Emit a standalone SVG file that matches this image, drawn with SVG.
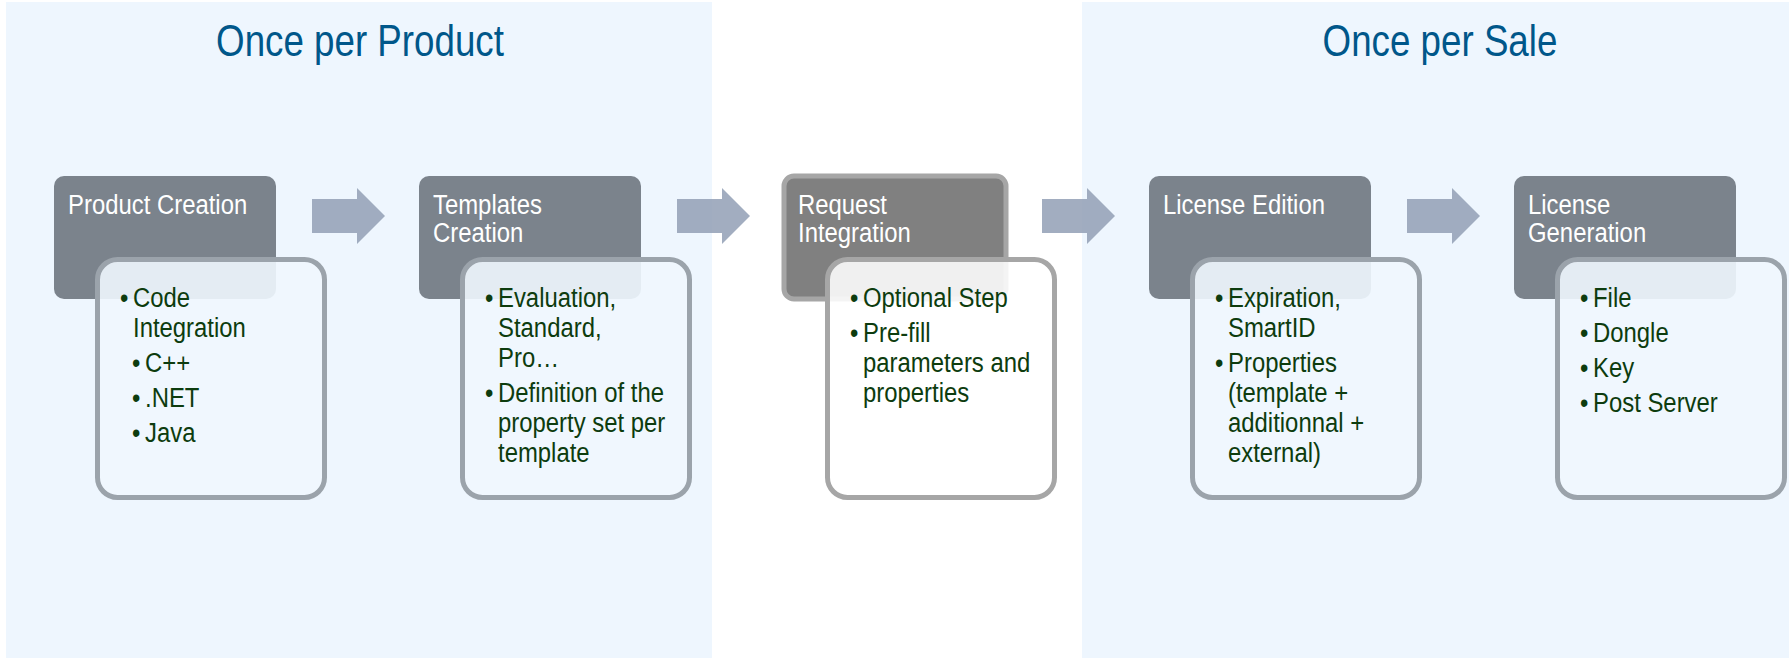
<svg xmlns="http://www.w3.org/2000/svg" width="1789" height="658" viewBox="0 0 1789 658">
<style>
.bg{fill:#FFFFFF}
.panel{fill:#EEF6FE}
.grp{font-family:"Liberation Sans",Arial,sans-serif;font-size:44px;fill:#00578A;text-anchor:middle}
.dark{fill:#7B838C}
.dark2{fill:#808080;stroke:#A6A6A6;stroke-width:5}
.card{fill:#F0F7FE;fill-opacity:0.9;stroke:#9BA3AB;stroke-width:5}
.card2{fill:#FFFFFF;fill-opacity:0.88;stroke:#A6A6A6;stroke-width:5}
.ttl{font-family:"Liberation Sans",Arial,sans-serif;font-size:27px;fill:#FFFFFF}
.bul{font-family:"Liberation Sans",Arial,sans-serif;font-size:27px;fill:#0D3C0E}
.arrow{fill:#929FB5;fill-opacity:0.85}
</style>
<rect class="bg" x="0" y="0" width="1789" height="658"/>
<g id="panel-product">
<rect class="panel" x="6" y="2" width="706" height="656"/>
<text class="grp" transform="translate(360,56) scale(0.835,1)">Once per Product</text>
</g>
<g id="panel-sale">
<rect class="panel" x="1082" y="2" width="707" height="656"/>
<text class="grp" transform="translate(1440,56) scale(0.835,1)">Once per Sale</text>
</g>
<g id="connectors">
<polygon class="arrow" points="312,199 357,199 357,188 385,216 357,244 357,233 312,233"/>
<polygon class="arrow" points="677,199 722,199 722,188 750,216 722,244 722,233 677,233"/>
<polygon class="arrow" points="1042,199 1087,199 1087,188 1115,216 1087,244 1087,233 1042,233"/>
<polygon class="arrow" points="1407,199 1452,199 1452,188 1480,216 1452,244 1452,233 1407,233"/>
</g>
<g id="node-product-creation">
<rect class="dark" x="54" y="176" width="222" height="123" rx="10"/>
<rect class="card" x="97.5" y="259.5" width="227" height="238" rx="20"/>
<text class="ttl" transform="translate(68,214) scale(0.885,1)">Product Creation</text>
<text class="bul" transform="translate(120,307) scale(0.885,1)">•</text>
<text class="bul" transform="translate(133,307) scale(0.885,1)">Code</text>
<text class="bul" transform="translate(133,337) scale(0.885,1)">Integration</text>
<text class="bul" transform="translate(132,372) scale(0.885,1)">•</text>
<text class="bul" transform="translate(145,372) scale(0.885,1)">C++</text>
<text class="bul" transform="translate(132,407) scale(0.885,1)">•</text>
<text class="bul" transform="translate(145,407) scale(0.885,1)">.NET</text>
<text class="bul" transform="translate(132,442) scale(0.885,1)">•</text>
<text class="bul" transform="translate(145,442) scale(0.885,1)">Java</text>
</g>
<g id="node-templates-creation">
<rect class="dark" x="419" y="176" width="222" height="123" rx="10"/>
<rect class="card" x="462.5" y="259.5" width="227" height="238" rx="20"/>
<text class="ttl" transform="translate(433,214) scale(0.885,1)">Templates</text>
<text class="ttl" transform="translate(433,242) scale(0.885,1)">Creation</text>
<text class="bul" transform="translate(485,307) scale(0.885,1)">•</text>
<text class="bul" transform="translate(498,307) scale(0.885,1)">Evaluation,</text>
<text class="bul" transform="translate(498,337) scale(0.885,1)">Standard,</text>
<text class="bul" transform="translate(498,367) scale(0.885,1)">Pro…</text>
<text class="bul" transform="translate(485,402) scale(0.885,1)">•</text>
<text class="bul" transform="translate(498,402) scale(0.885,1)">Definition of the</text>
<text class="bul" transform="translate(498,432) scale(0.885,1)">property set per</text>
<text class="bul" transform="translate(498,462) scale(0.885,1)">template</text>
</g>
<g id="node-request-integration">
<rect class="dark2" x="784" y="176" width="222" height="123" rx="10"/>
<rect class="card2" x="827.5" y="259.5" width="227" height="238" rx="20"/>
<text class="ttl" transform="translate(798,214) scale(0.885,1)">Request</text>
<text class="ttl" transform="translate(798,242) scale(0.885,1)">Integration</text>
<text class="bul" transform="translate(850,307) scale(0.885,1)">•</text>
<text class="bul" transform="translate(863,307) scale(0.885,1)">Optional Step</text>
<text class="bul" transform="translate(850,342) scale(0.885,1)">•</text>
<text class="bul" transform="translate(863,342) scale(0.885,1)">Pre-fill</text>
<text class="bul" transform="translate(863,372) scale(0.885,1)">parameters and</text>
<text class="bul" transform="translate(863,402) scale(0.885,1)">properties</text>
</g>
<g id="node-license-edition">
<rect class="dark" x="1149" y="176" width="222" height="123" rx="10"/>
<rect class="card" x="1192.5" y="259.5" width="227" height="238" rx="20"/>
<text class="ttl" transform="translate(1163,214) scale(0.885,1)">License Edition</text>
<text class="bul" transform="translate(1215,307) scale(0.885,1)">•</text>
<text class="bul" transform="translate(1228,307) scale(0.885,1)">Expiration,</text>
<text class="bul" transform="translate(1228,337) scale(0.885,1)">SmartID</text>
<text class="bul" transform="translate(1215,372) scale(0.885,1)">•</text>
<text class="bul" transform="translate(1228,372) scale(0.885,1)">Properties</text>
<text class="bul" transform="translate(1228,402) scale(0.885,1)">(template +</text>
<text class="bul" transform="translate(1228,432) scale(0.885,1)">additionnal +</text>
<text class="bul" transform="translate(1228,462) scale(0.885,1)">external)</text>
</g>
<g id="node-license-generation">
<rect class="dark" x="1514" y="176" width="222" height="123" rx="10"/>
<rect class="card" x="1557.5" y="259.5" width="227" height="238" rx="20"/>
<text class="ttl" transform="translate(1528,214) scale(0.885,1)">License</text>
<text class="ttl" transform="translate(1528,242) scale(0.885,1)">Generation</text>
<text class="bul" transform="translate(1580,307) scale(0.885,1)">•</text>
<text class="bul" transform="translate(1593,307) scale(0.885,1)">File</text>
<text class="bul" transform="translate(1580,342) scale(0.885,1)">•</text>
<text class="bul" transform="translate(1593,342) scale(0.885,1)">Dongle</text>
<text class="bul" transform="translate(1580,377) scale(0.885,1)">•</text>
<text class="bul" transform="translate(1593,377) scale(0.885,1)">Key</text>
<text class="bul" transform="translate(1580,412) scale(0.885,1)">•</text>
<text class="bul" transform="translate(1593,412) scale(0.885,1)">Post Server</text>
</g>
</svg>
